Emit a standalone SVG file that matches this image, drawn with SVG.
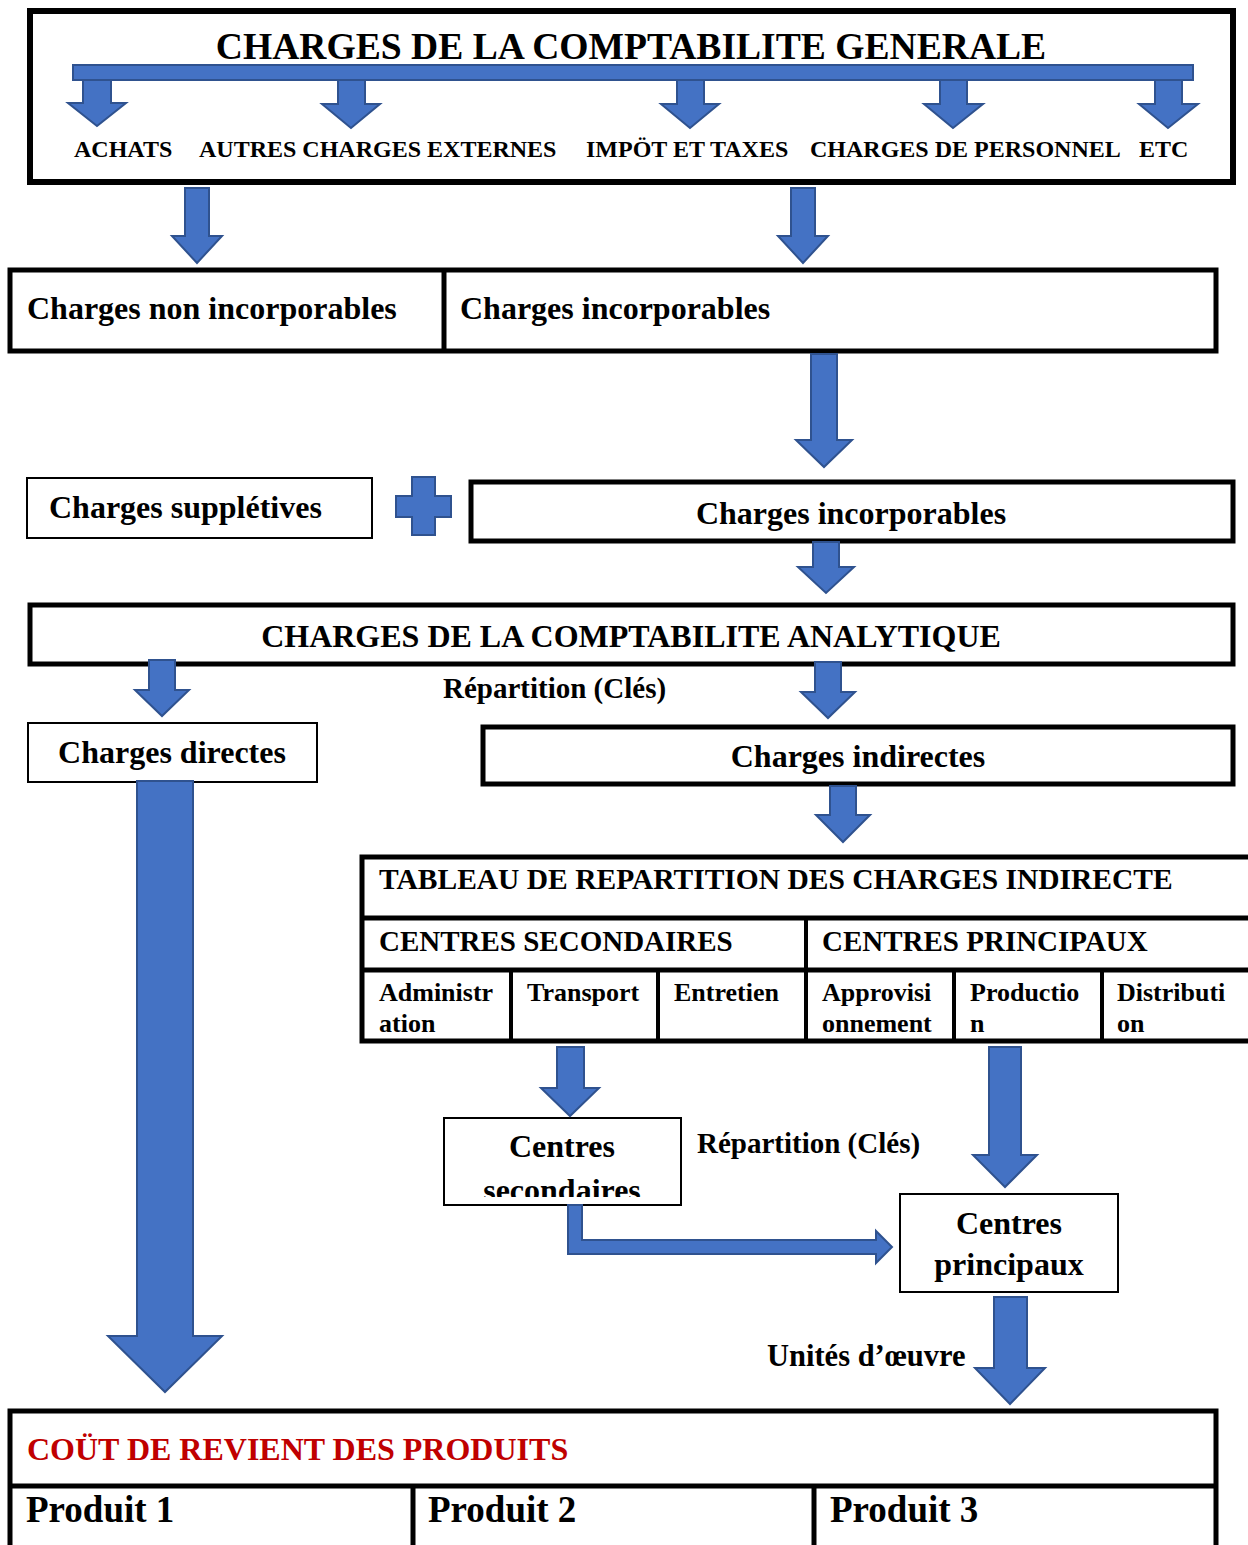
<svg xmlns="http://www.w3.org/2000/svg" width="1248" height="1545" viewBox="0 0 1248 1545">
<style>
text{font-family:"Liberation Serif","Times New Roman",serif;font-weight:bold;fill:#000}
.thick{fill:#fff;stroke:#000;stroke-width:5}
.thin{fill:#fff;stroke:#000;stroke-width:2}
.line{stroke:#000;stroke-width:5;fill:none}
.line4{stroke:#000;stroke-width:4;fill:none}
.arr{fill:#4472C4;stroke:#2F528F;stroke-width:2;stroke-linejoin:miter}
.t24{font-size:24px}
.t26{font-size:26px}
.t29{font-size:29px}
.t32{font-size:32px}
.t37{font-size:37px}
.mid{text-anchor:middle}
</style>
<defs>
<clipPath id="clipSec"><rect x="446" y="1120" width="233" height="77"/></clipPath>
</defs>

<g id="gen">
<rect class="thick" x="30" y="11" width="1203" height="171" style="stroke-width:6"/>
<text x="631" y="59" class="mid" style="font-size:37.6px">CHARGES DE LA COMPTABILITE GENERALE</text>
<text x="74" y="157" class="t24">ACHATS</text>
<text x="199" y="157" class="t24">AUTRES CHARGES EXTERNES</text>
<text x="586" y="157" class="t24">IMPÖT ET TAXES</text>
<text x="810" y="157" class="t24">CHARGES DE PERSONNEL</text>
<text x="1139" y="157" class="t24">ETC</text>
</g>

<g id="row-incorp">
<rect class="thick" x="10" y="270" width="1206" height="81"/>
<line class="line" x1="444" y1="270" x2="444" y2="351"/>
<text x="27" y="319" class="t32">Charges non incorporables</text>
<text x="460" y="319" class="t32">Charges incorporables</text>
</g>

<g id="suppl">
<rect class="thin" x="27" y="478" width="345" height="60"/>
<text x="49" y="518" class="t32">Charges supplétives</text>
</g>

<g id="plus">
<polygon class="arr" points="412,477 435,477 435,496 451,496 451,517 435,517 435,535 412,535 412,517 396,517 396,496 412,496"/>
</g>

<g id="incorp2">
<rect class="thick" x="471" y="482" width="762" height="59"/>
<text x="851" y="524" class="mid t32">Charges incorporables</text>
</g>

<g id="analytique">
<rect class="thick" x="30" y="605" width="1203" height="59"/>
<text x="631" y="647" class="mid t32">CHARGES DE LA COMPTABILITE ANALYTIQUE</text>
</g>

<g id="lbl-rep1">
<text x="443" y="698" class="t29">Répartition (Clés)</text>
</g>

<g id="directes">
<rect class="thin" x="28" y="723" width="289" height="59"/>
<text x="172" y="763" class="mid t32">Charges directes</text>
</g>

<g id="indirectes">
<rect class="thick" x="483" y="727" width="750" height="57"/>
<text x="858" y="767" class="mid t32">Charges indirectes</text>
</g>

<g id="tableau">
<path class="line" d="M1250,857 H362 V1041 H1250"/>
<line class="line" x1="362" y1="918" x2="1250" y2="918"/>
<line class="line" x1="362" y1="970" x2="1250" y2="970"/>
<line class="line4" x1="806" y1="918" x2="806" y2="1041"/>
<line class="line4" x1="511" y1="970" x2="511" y2="1041"/>
<line class="line4" x1="658" y1="970" x2="658" y2="1041"/>
<line class="line4" x1="954" y1="970" x2="954" y2="1041"/>
<line class="line4" x1="1102" y1="970" x2="1102" y2="1041"/>
<text x="379" y="889" style="font-size:29.5px">TABLEAU DE REPARTITION DES CHARGES INDIRECTE</text>
<text x="379" y="951" class="t29">CENTRES SECONDAIRES</text>
<text x="822" y="951" class="t29">CENTRES PRINCIPAUX</text>
<text x="379" y="1001" class="t26">Administr</text>
<text x="379" y="1032" class="t26">ation</text>
<text x="527" y="1001" class="t26">Transport</text>
<text x="674" y="1001" class="t26">Entretien</text>
<text x="822" y="1001" class="t26">Approvisi</text>
<text x="822" y="1032" class="t26">onnement</text>
<text x="970" y="1001" class="t26">Productio</text>
<text x="970" y="1032" class="t26">n</text>
<text x="1117" y="1001" class="t26">Distributi</text>
<text x="1117" y="1032" class="t26">on</text>
</g>

<g id="sec">
<rect class="thin" x="444" y="1118" width="237" height="87"/>
<text x="562" y="1157" class="mid t32">Centres</text>
<text x="562" y="1201" class="mid t32" clip-path="url(#clipSec)">secondaires</text>
</g>

<g id="lbl-rep2">
<text x="697" y="1153" class="t29">Répartition (Clés)</text>
</g>

<g id="princ">
<rect class="thin" x="900" y="1194" width="218" height="98"/>
<text x="1009" y="1234" class="mid t32">Centres</text>
<text x="1009" y="1275" class="mid t32">principaux</text>
</g>

<g id="lbl-uo">
<text x="767" y="1366" style="font-size:30.5px">Unités d’œuvre</text>
</g>

<g id="cout">
<path class="line" d="M10,1548 V1411 H1216 V1548"/>
<line class="line" x1="10" y1="1486" x2="1216" y2="1486"/>
<line class="line" x1="413" y1="1486" x2="413" y2="1548"/>
<line class="line" x1="814" y1="1486" x2="814" y2="1548"/>
<text x="27" y="1460" class="t32" style="fill:#C00000">COÜT DE REVIENT DES PRODUITS</text>
<text x="26" y="1522" class="t37">Produit 1</text>
<text x="428" y="1522" class="t37">Produit 2</text>
<text x="830" y="1522" class="t37">Produit 3</text>
</g>

<g id="connectors">
<rect class="arr" x="73" y="65" width="1120" height="15"/>
<polygon class="arr" points="83,80 111,80 111,103 126,103 97,126 68,103 83,103"/>
<polygon class="arr" points="338,80 365,80 365,104 380,104 351,128 322,104 338,104"/>
<polygon class="arr" points="677,80 704,80 704,104 719,104 690,128 661,104 677,104"/>
<polygon class="arr" points="940,80 967,80 967,104 983,104 953,128 924,104 940,104"/>
<polygon class="arr" points="1155,80 1182,80 1182,104 1198,104 1168,128 1139,104 1155,104"/>

<polygon class="arr" points="185,188 209,188 209,236 222,236 197,263 172,236 185,236"/>
<polygon class="arr" points="791,188 815,188 815,236 828,236 803,263 778,236 791,236"/>
<polygon class="arr" points="811,354 837,354 837,440 852,440 824,467 796,440 811,440"/>
<polygon class="arr" points="813,542 839,542 839,567 854,567 826,593 798,567 813,567"/>
<polygon class="arr" points="149,660 175,660 175,690 189,690 162,716 135,690 149,690"/>
<polygon class="arr" points="815,662 841,662 841,692 855,692 828,718 801,692 815,692"/>
<polygon class="arr" points="137,781 193,781 193,1336 222,1336 165,1392 108,1336 137,1336"/>
<polygon class="arr" points="830,786 856,786 856,815 870,815 843,842 816,815 830,815"/>
<polygon class="arr" points="557,1047 584,1047 584,1088 599,1088 570,1116 541,1088 557,1088"/>
<polygon class="arr" points="989,1047 1021,1047 1021,1155 1037,1155 1005,1187 973,1155 989,1155"/>
<polygon class="arr" points="994,1297 1027,1297 1027,1368 1045,1368 1010,1404 975,1368 994,1368"/>
<polygon class="arr" points="568,1205 582,1205 582,1240 876,1240 876,1231 892,1247 876,1263 876,1254 568,1254"/>
</g>
</svg>
